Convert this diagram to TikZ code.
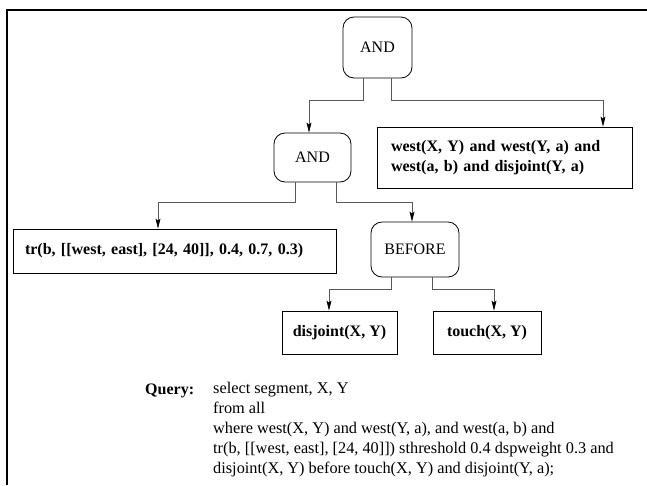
\documentclass[tikz,border=0pt]{standalone}
\usepackage{fontspec}
\setmainfont{Liberation Serif}
\usetikzlibrary{arrows.meta}

\begin{document}
\begin{tikzpicture}[
    x=1pt, y=-1pt,
    font=\fontsize{16}{20}\selectfont,
    op/.style={draw, line width=0.8pt, rounded corners=11pt, inner sep=0pt},
    leaf/.style={draw, line width=0.8pt, inner sep=0pt, font=\fontsize{16}{20}\selectfont\bfseries},
    link/.style={draw=black!65, line width=0.7pt, -{Stealth[length=10pt,width=5pt,inset=2pt,black]}}
]
    \useasboundingbox (0,0) rectangle (647,485);
    \draw[line width=2pt] (7,485) -- (7,10) -- (647,10);

    % operators
    \node[op, minimum width=69pt, minimum height=61pt] (and1) at (377.5,47.5) {AND};
    \node[op, minimum width=77pt, minimum height=49pt] (and2) at (312.5,157.5) {AND};
    \node[op, minimum width=88pt, minimum height=55pt] (before) at (415,249.5) {BEFORE};

    % conditions
    \node[leaf, text width=227pt, align=left, inner xsep=14pt, minimum height=61pt] (conds) at (504.5,157.5)
        {west(X, Y) and west(Y, a) and\\west(a, b) and disjoint(Y, a)};
    \node[leaf, text width=299pt, align=left, inner xsep=12pt, minimum height=44pt] (tr) at (174.5,251)
        {tr(b, [[west, east], [24, 40]], 0.4, 0.7, 0.3)};
    \node[leaf, minimum width=115pt, minimum height=43pt] (disj) at (339.5,332.5) {disjoint(X, Y)};
    \node[leaf, minimum width=108pt, minimum height=43pt] (touch) at (487,332.5) {touch(X, Y)};

    \foreach \from/\dx/\drop/\to/\tx in {and1/-14.5/22/and2/-3.5, and1/13.5/22/conds/98.5,
        and2/-17.5/20/tr/-16.5, and2/23.5/20/before/-3,
        before/-24/12/disj/-10.5, before/17/12/touch/7}
        \draw[link] ([xshift=\dx pt]\from.south) -- ++(0,\drop) -| ([xshift=\tx pt]\to.north);

    % query text
    \node[anchor=base west, inner sep=0pt, font=\fontsize{16}{20}\selectfont\bfseries] (qlabel) at (145,394) {Query:};
    \node[anchor=north west, align=left, inner sep=0pt, font=\fontsize{16.3}{20}\selectfont] (query) at (213,382)
        {select segment, X, Y\\
         from all\\
         where west(X, Y) and west(Y, a), and west(a, b) and\\
         tr(b, [[west, east], [24, 40]]) sthreshold 0.4 dspweight 0.3 and\\
         disjoint(X, Y) before touch(X, Y) and disjoint(Y, a);};
\end{tikzpicture}
\end{document}
